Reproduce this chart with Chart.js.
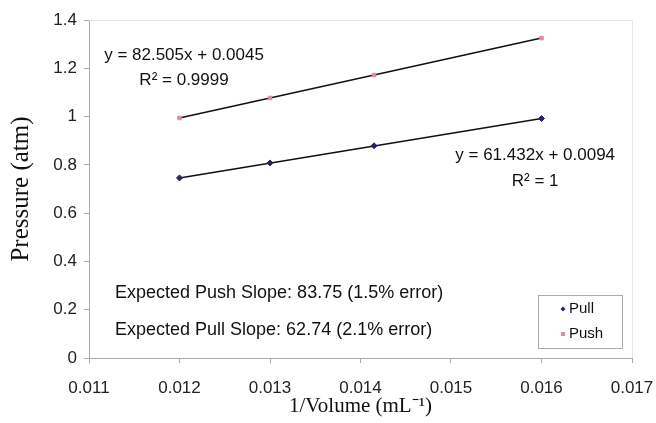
<!DOCTYPE html>
<html>
<head>
<meta charset="utf-8">
<script src="https://cdn.jsdelivr.net/npm/chart.js@4/dist/chart.umd.min.js"></script>
<style>
  html, body { margin: 0; background: #fff; }
  #wrap { width: 656px; height: 423px; }
</style>
</head>
<body>
<div id="wrap"><canvas id="chart"></canvas></div>
<script>
// data
const invVolume    = [0.012, 0.013, 0.01415, 0.016];
const pullPressure = [0.746, 0.808, 0.879, 0.992];
const pushPressure = [0.994, 1.077, 1.172, 1.325];

// trendline ends (first to last point)
const trendX    = [0.012, 0.016];
const pullTrend = [0.746, 0.992];
const pushTrend = [0.994, 1.325];

const xTicks = [0.011, 0.012, 0.013, 0.014, 0.015, 0.016, 0.017];
const yTicks = [0, 0.2, 0.4, 0.6, 0.8, 1, 1.2, 1.4];

const seriesNames = ['Pull', 'Push'];
const pushEq = ['y = 82.505x + 0.0045', 'R² = 0.9999'];
const pullEq = ['y = 61.432x + 0.0094', 'R² = 1'];
const notes  = ['Expected Push Slope: 83.75 (1.5% error)', 'Expected Pull Slope: 62.74 (2.1% error)'];

const pts = (xs, ys) => xs.map((x, i) => ({ x: x, y: ys[i] }));
const SANS = '"Liberation Sans", Arial, sans-serif';
const SERIF = '"Liberation Serif", "Times New Roman", serif';

// equations, notes and legend box drawn over the plot
const overlay = {
  id: 'overlay',
  afterDatasetsDraw(chart) {
    const { ctx, scales: { x, y }, chartArea } = chart;
    ctx.save();
    ctx.fillStyle = '#111';
    ctx.font = '17px ' + SANS;
    ctx.textBaseline = 'middle';
    ctx.textAlign = 'center';
    ctx.fillText(pushEq[0], x.getPixelForValue(0.01205), y.getPixelForValue(1.255));
    ctx.fillText(pushEq[1], x.getPixelForValue(0.01205), y.getPixelForValue(1.15));
    ctx.fillText(pullEq[0], x.getPixelForValue(0.01593), y.getPixelForValue(0.84));
    ctx.fillText(pullEq[1], x.getPixelForValue(0.01593), y.getPixelForValue(0.733));
    ctx.textAlign = 'left';
    ctx.font = '18px ' + SANS;
    ctx.fillText(notes[0], 115, 293);
    ctx.fillText(notes[1], 115, 330);

    // legend
    const lx = 538, ly = 295, lw = 84, lh = 53;
    ctx.fillStyle = '#fff';
    ctx.fillRect(lx, ly, lw, lh);
    ctx.strokeStyle = '#aaa';
    ctx.lineWidth = 1;
    ctx.strokeRect(lx + 0.5, ly + 0.5, lw, lh);
    ctx.font = '15px ' + SANS;
    chart.data.datasets.slice(0, 2).forEach((ds, i) => {
      const cy = ly + 14 + i * 25;
      ctx.fillStyle = ds.backgroundColor;
      ctx.beginPath();
      if (ds.pointStyle === 'rectRot') {
        ctx.moveTo(563, cy - 2.5); ctx.lineTo(565.5, cy); ctx.lineTo(563, cy + 2.5); ctx.lineTo(560.5, cy);
      } else {
        ctx.rect(561, cy - 2, 4, 4);
      }
      ctx.fill();
      ctx.fillStyle = '#111';
      ctx.fillText(ds.label, 569, cy);
    });

    // faint frame on top and right of plot area
    ctx.strokeStyle = '#e6e6e6';
    ctx.beginPath();
    ctx.moveTo(chartArea.left, chartArea.top + 0.5);
    ctx.lineTo(chartArea.right + 0.5, chartArea.top + 0.5);
    ctx.lineTo(chartArea.right + 0.5, chartArea.bottom);
    ctx.stroke();
    ctx.restore();
  }
};

new Chart(document.getElementById('chart'), {
  type: 'scatter',
  data: {
    datasets: [
      { label: seriesNames[0], data: pts(invVolume, pullPressure), pointStyle: 'rectRot',
        backgroundColor: '#24246e', borderColor: '#24246e', pointRadius: 3, order: 0 },
      { label: seriesNames[1], data: pts(invVolume, pushPressure), pointStyle: 'rect',
        backgroundColor: '#e08aa2', borderColor: '#e08aa2', pointRadius: 2.5, order: 0 },
      { label: 'pull trend', data: pts(trendX, pullTrend), showLine: true, pointRadius: 0,
        borderColor: '#111', borderWidth: 1.5, order: 1 },
      { label: 'push trend', data: pts(trendX, pushTrend), showLine: true, pointRadius: 0,
        borderColor: '#111', borderWidth: 1.5, order: 1 }
    ]
  },
  options: {
    responsive: true,
    maintainAspectRatio: false,
    animation: false,
    layout: { padding: { top: 20, right: 24, left: 0, bottom: 0 } },
    plugins: { legend: { display: false }, tooltip: { enabled: false } },
    scales: {
      x: {
        type: 'linear', min: 0.011, max: 0.017,
        afterBuildTicks: s => { s.ticks = xTicks.map(v => ({ value: v })); },
        afterFit: s => { s.height = 65; s.paddingLeft = 0; s.paddingRight = 0; },
        border: { color: '#aaa' },
        grid: { drawOnChartArea: false, tickLength: 5, color: '#aaa' },
        ticks: { color: '#222', font: { family: SANS, size: 17 }, padding: 15,
                 maxRotation: 0, callback: v => String(v) },
        title: { display: true, text: '1/Volume (mL⁻¹)', color: '#111',
                 font: { family: SERIF, size: 21 }, padding: { top: 0, bottom: 4 } }
      },
      y: {
        min: 0, max: 1.4,
        afterBuildTicks: s => { s.ticks = yTicks.map(v => ({ value: v })); },
        afterFit: s => { s.width = 89; s.paddingTop = 0; s.paddingBottom = 0; },
        border: { color: '#aaa' },
        grid: { drawOnChartArea: false, tickLength: 5, color: '#aaa' },
        ticks: { color: '#222', font: { family: SANS, size: 17 }, padding: 7,
                 callback: v => String(v) },
        title: { display: true, text: 'Pressure (atm)', color: '#111',
                 font: { family: SERIF, size: 25 }, padding: { top: 6, bottom: 0 } }
      }
    }
  },
  plugins: [overlay]
});
</script>
</body>
</html>
